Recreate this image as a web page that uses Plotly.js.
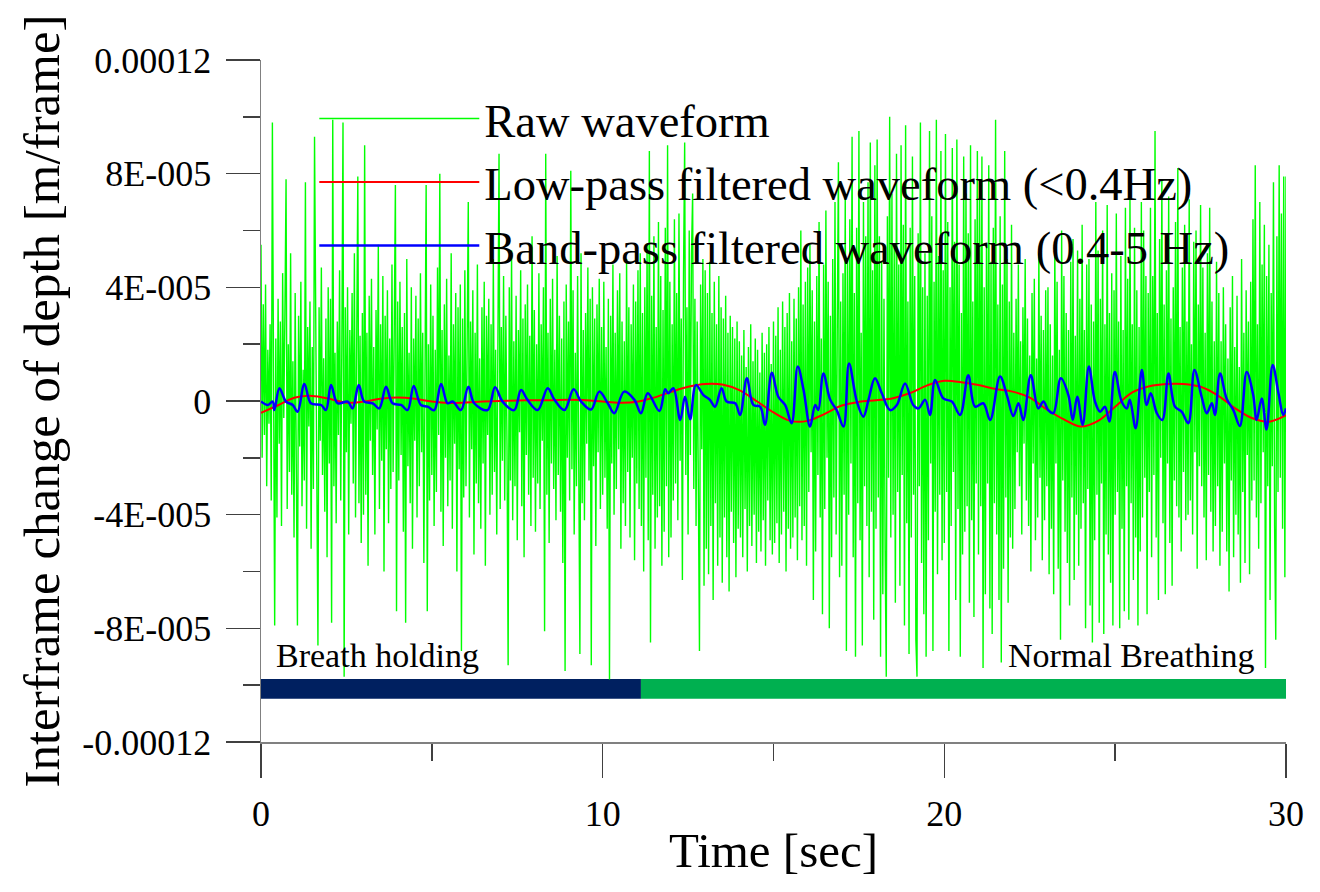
<!DOCTYPE html>
<html>
<head>
<meta charset="utf-8">
<script src="https://cdn.plot.ly/plotly-3.0.1.min.js"></script>
<style>html,body{margin:0;padding:0;background:#fff;}#chart{width:1320px;height:892px;}</style>
</head>
<body>
<div id="chart"></div>
<script>
// Raw waveform in units of 1e-6 m/frame,
// one row per second, 30 samples per second (t = 0 ... 30 s)
const RAW_UNIT = 1e-6;
const rawDt = 1 / 30;
const rawE6 = [
  55, -20, 34, -12, 41, -30, 18, -8, 27, -35, 98, 12, -79, 22, -41, 36, -15, 28, -44, 45, -6, 31, 78, -38, 20, -25, 52, -33, 14, -48,
  38, -24, -79, 30, -16, 42, -37, 11, -28, 77, -45, 26, -9, 35, -52, 19, -31, 93, 24, -40, -86, 33, -14, 47, -26, 15, -39, 29, -55, 40,
  -22, 36, -78, 99, -30, 17, -43, 28, -12, 46, -35, 21, 98, -97, 33, -18, 40, -47, 25, -8, 38, -29, 52, -41, 16, 79, -36, 23, -50, 31,
  -40, 90, -33, 24, -58, 37, -14, 43, -26, 19, -47, 32, -10, 55, -38, 27, -21, 44, -60, 30, -17, 39, -43, 22, -31, 48, -25, 14, 76, -74,
  35, -28, 42, -19, 26, -46, 31, -78, 50, -23, 17, -36, 40, -52, 22, -14, 37, -41, 29, -30, 45, -18, 24, -57, 33, 76, -74, 20, -35, 41,
  -26, 30, -44, 18, -32, 47, -12, 80, -39, 25, -51, 34, -20, 43, -37, 16, -28, 52, -45, 27, -15, 38, -60, 33, -24, 41, -88, 29, -34, 46,
  -30, 22, 70, -41, 28, -17, 39, -54, 24, -29, 48, -36, 15, -45, 33, -22, 42, -58, 30, -12, 36, -40, 27, -33, 50, -25, 18, -47, 35, 87,
  -38, 26, -21, 44, -35, 30, -16, -93, 40, -28, 53, -42, 21, -30, 37, -49, 25, -11, 46, -37, 29, -55, 34, -19, 41, -33, 23, -44, 58, -27,
  32, -46, 20, -29, 45, -38, 27, -14, 40, -81, 87, -33, 24, -50, 36, -22, 43, -31, 18, -42, 51, -26, 30, -39, 22, -57, 35, -95, 41, -20,
  28, -35, 81, -24, 39, -47, 17, -30, 44, -19, -89, 52, -36, 25, -42, 31, -15, 47, -28, 36, -93, 40, -23, 29, -51, 34, -18, 43, -38, 26,
  -33, 42, -27, 19, -45, 36, -98, 30, -22, 48, -40, 24, -31, 39, -17, 45, -52, 28, -36, 21, -44, 50, -25, 33, -48, 27, -20, 41, -56, 35,
  -29, 46, -38, 52, -44, 31, -60, 40, -27, 55, -49, 88, -85, 37, -33, 58, -52, 26, -41, 63, -37, 44, -58, 32, -46, 61, -30, 90, -55, 42,
  -48, 27, -35, 64, -29, 38, -42, 66, -21, 29, -63, 45, 91, -26, 33, -47, 60, -19, 52, 73, -31, 36, -44, 28, -53, -88, 41, -17, 50, -65,
  46, -52, 38, -61, 49, -44, 31, -70, 42, -36, 27, -58, 44, -48, 33, -64, 29, -41, 37, -55, 24, -67, 30, -39, 26, -50, 22, -62, 28, -45,
  21, -48, 16, -55, 25, -38, 12, -60, 19, -44, 27, -51, 14, -40, 22, -57, 18, -46, 10, -53, 24, -42, 17, -58, 20, -35, 26, -49, 13, -54,
  28, -50, 23, -43, 33, -57, 18, -47, 35, -39, 26, -60, 31, -45, 38, -52, 21, -48, 36, -41, 29, -56, 40, -37, 60, -49, 34, -44, 42, -58,
  47, -32, 55, -18, 39, -70, 28, -53, 44, -26, 63, -41, 22, -75, 48, -38, 67, -20, 42, -80, 30, -55, 50, -34, 70, -47, 26, 84, -62, 35,
  -58, 45, -33, 72, -88, 50, -40, 64, -22, 93, -55, 38, -90, 61, -36, 95, -49, 24, -86, 70, -30, 58, -44, 77, -62, 91, -39, 46, -77, 83,
  -45, 92, -34, 58, -90, 49, -68, 36, -52, -97, 65, -27, 100, -48, 73, -40, 54, -71, 87, -32, 48, -65, 90, -26, 62, -79, 97, -43, 35, -89,
  61, -48, 86, -33, 44, -84, -97, 59, -30, 98, -57, 40, -75, 52, -90, 37, -49, 95, -22, 65, -88, 42, -39, 99, -61, 51, -33, 88, -56, 46,
  -50, 94, -32, 63, -88, 40, -44, 89, -25, 56, -70, 92, -38, 48, -90, 31, -54, 86, -46, 73, -37, 59, -71, 90, -42, 35, -76, 64, -29, 88,
  -54, 72, -37, 86, -94, 40, -68, 55, -29, 83, -73, 49, -82, 61, -36, 99, -47, 34, -70, 65, -92, 41, -59, 88, -34, 50, -71, 35, -48, 62,
  -52, 24, -38, 36, -18, 48, -30, 21, -47, 33, -15, 50, -35, 29, -44, 16, -60, 38, -22, 43, -49, 15, -41, 52, -27, 30, -56, 25, -42, 39,
  -30, 40, -61, 27, -45, 16, -68, 55, -22, 42, -59, 18, -84, 60, -28, 44, -46, 31, -57, 25, -72, 49, -34, 57, -63, 23, -40, 53, -58, 36,
  -45, 62, -36, 25, -80, 48, -31, 50, -72, 34, -85, 28, -49, 70, -33, 53, -78, 36, -29, 60, -82, 27, -47, 69, -54, 31, -64, 45, -79, 39,
  -40, 66, -32, 28, -80, 51, -45, 25, -74, 68, -30, 43, -77, 72, -36, 27, -63, 61, -48, 39, -79, 26, -53, 70, -41, 60, -27, 44, -75, 38,
  -32, 68, -55, 44, -26, 95, -48, 31, -70, 57, -20, 78, -43, 34, -68, 46, -22, 72, -50, 29, -65, 40, -28, 63, -37, 82, -41, 26, -53, 47,
  -25, 62, -42, 28, -40, 71, -35, 20, -47, 56, -18, 60, -59, 34, -23, 69, -30, 47, -41, 24, -56, 52, -26, 68, -39, 35, -53, 21, -44, 49,
  -30, 38, -58, 21, -46, 40, -22, 27, -53, 15, -67, 33, -28, 44, -55, 19, -40, 37, -47, 12, -64, 50, -32, 24, -57, 39, -19, 28, -61, 42,
  -35, 64, -28, 83, -41, 27, -52, 70, -36, 48, -18, 62, -94, 44, -30, 55, -70, 38, -23, 77, -44, -84, 58, -32, 83, -27, 66, -45, 79, -62,
  79
];

// Filtered waveforms in units of 1e-5 m/frame
const UNIT = 1e-5;

// Low-pass filtered waveform: sampled every 0.5 s
const lpDt = 0.5;
const lowPassE5 = [
  -0.42, -0.15, 0.12, 0.18, 0.08, -0.06, -0.02, 0.08, 0.12, 0.08,
  -0.02, -0.07, -0.05, -0.02, 0.00, 0.02, 0.03, 0.03, 0.04, 0.03,
  -0.02, -0.06, -0.03, 0.12, 0.32, 0.50, 0.60, 0.58, 0.38, 0.00,
  -0.40, -0.70, -0.70, -0.45, -0.16, -0.03, 0.03, 0.10, 0.28, 0.55,
  0.71, 0.66, 0.56, 0.42, 0.33, 0.12, -0.30, -0.65, -0.90, -0.70,
  -0.20, 0.30, 0.52, 0.60, 0.60, 0.50, 0.20, -0.25, -0.60, -0.73,
  -0.50
];

// Band-pass filtered waveform: turning points (time [s], value)
const bpTime = [
  0, 0.2, 0.34, 0.39, 0.54, 0.73, 0.93, 1.07, 1.27, 1.46, 1.76, 1.9, 2.05, 2.24, 2.54, 2.68, 2.86,
  3.02, 3.27, 3.46, 3.66, 3.85, 4.1, 4.29, 4.47, 4.68, 4.88, 5.07, 5.27, 5.46, 5.61, 5.85,
  6.07, 6.24, 6.63, 6.85, 7.07, 7.41, 7.61, 7.8, 8.1, 8.39, 8.59, 8.88, 9.15, 9.37, 9.66,
  9.9, 10.15, 10.34, 10.63, 10.93, 11.12, 11.32, 11.66, 11.83, 11.92, 12.07, 12.27, 12.41,
  12.56, 12.73, 12.95, 13.14, 13.29, 13.48, 13.63, 13.88, 14.02, 14.22, 14.41, 14.61, 14.75,
  14.95, 15.14, 15.34, 15.53, 15.71, 15.88, 16.07, 16.22, 16.31, 16.46, 16.66, 16.85, 17.05,
  17.21, 17.44, 17.63, 17.78, 17.97, 18.17, 18.41, 18.61, 18.85, 19.09, 19.24, 19.44, 19.58,
  19.73, 19.97, 20.22, 20.46, 20.7, 20.9, 21.14, 21.34, 21.63, 21.83, 22.02, 22.17, 22.31,
  22.53, 22.75, 22.9, 23.04, 23.19, 23.41, 23.63, 23.76, 23.89, 24.05, 24.23, 24.41, 24.56,
  24.7, 24.83, 24.99, 25.19, 25.34, 25.43, 25.6, 25.78, 25.92, 26.04, 26.22, 26.38, 26.56,
  26.75, 26.95, 27.14, 27.32, 27.53, 27.68, 27.83, 27.92, 28.07, 28.26, 28.46, 28.65, 28.85,
  29.04, 29.14, 29.29, 29.43, 29.61, 29.78, 29.92, 30
];
const bpE5 = [
  -0.02, -0.14, -0.02, -0.32, 0.45, -0.02, -0.14, -0.38, 0.60, -0.08, -0.14, -0.32, 0.56, -0.08, -0.02, -0.26, 0.56,
  -0.02, -0.08, -0.26, 0.50, -0.08, -0.14, -0.32, 0.53, -0.14, -0.20, -0.32, 0.60, -0.08, -0.02, -0.32,
  0.50, -0.08, -0.32, 0.48, -0.02, -0.32, 0.39, 0.04, -0.32, 0.45, 0.04, -0.32, 0.41, -0.02, -0.30,
  0.33, -0.08, -0.43, 0.33, 0.04, -0.43, 0.27, -0.35, 0.41, 0.27, 0.45, -0.67, 0.15,
  -0.64, 0.56, 0.21, 0.04, -0.20, 0.45, -0.02, -0.08, -0.49, 0.80, -0.14, -0.20, -0.84,
  0.99, 0.15, -0.14, -0.78, 1.21, 0.39, -0.90, -0.14, -0.32, 0.97, 0.04, -0.32, -0.90,
  1.32, -0.02, -0.55, 0.04, 0.80, 0.27, -0.32, -0.14, 0.62, -0.14, -0.26, 0.04, -0.49,
  0.74, 0.09, -0.02, -0.49, 0.91, -0.20, -0.08, -0.67, 0.86, 0.21, -0.53, -0.08, -0.67,
  0.91, -0.26, -0.02, -0.32, -0.43, 0.80, 0.21, -0.67, 0.15, -0.84, 1.21, -0.02, -0.38,
  -0.20, -0.72, 1.02, -0.02, -0.26, 0.04, -0.96, 1.09, -0.14, 0.27, -0.43, -0.67, 0.97,
  -0.20, -0.38, -0.78, 1.09, 0.15, -0.43, -0.08, -0.49, 0.97, 0.09, -0.32, -0.88, 1.02,
  0.21, -0.67, 0.09, -1.00, 1.27, 0.27, -0.49, -0.26
];

// Breathing phases (time bar at the bottom)
const phaseNames = ['Breath holding', 'Normal Breathing'];
const phaseStart = [0, 11.12];
const phaseEnd = [11.12, 30];
const phaseColors = ['#002060', '#00B050'];
const phaseBarLevelE5 = -10.13;
const phaseLabelLevelE5 = -8.97;

// Axis ticks and labels
const xTickVals = [0, 10, 20, 30];
const xMinorVals = [5, 15, 25];
const yTickValsE5 = [-12, -8, -4, 0, 4, 8, 12];
const yTickText = ['-0.00012', '-8E-005', '-4E-005', '0', '4E-005', '8E-005', '0.00012'];
const yMinorValsE5 = [-10, -6, -2, 2, 6, 10];

const scale = (a, u) => a.map(v => v * u);
const FONT = 'Liberation Serif, Times New Roman, serif';

const traces = [
  {
    type: 'scatter', mode: 'lines', name: 'Raw waveform',
    x0: 0, dx: rawDt, y: scale(rawE6, RAW_UNIT),
    line: {color: '#00FF00', width: 1.4}, hoverinfo: 'skip'
  },
  {
    type: 'scatter', mode: 'lines', name: 'Low-pass filtered waveform (<0.4Hz)',
    x0: 0, dx: lpDt, y: scale(lowPassE5, UNIT),
    line: {color: '#FF0000', width: 2, shape: 'spline', smoothing: 1}, hoverinfo: 'skip'
  },
  {
    type: 'scatter', mode: 'lines', name: 'Band-pass filtered waveform (0.4-5 Hz)',
    x: bpTime, y: scale(bpE5, UNIT),
    line: {color: '#0000FF', width: 2.5, shape: 'spline', smoothing: 1}, hoverinfo: 'skip'
  },
  {
    type: 'bar', orientation: 'h', showlegend: false, hoverinfo: 'skip',
    y: phaseStart.map(() => phaseBarLevelE5 * UNIT),
    base: phaseStart,
    x: phaseEnd.map((e, i) => e - phaseStart[i]),
    width: 0.7 * UNIT,
    marker: {color: phaseColors, line: {width: 0}}
  }
];

const layout = {
  width: 1320, height: 892,
  margin: {l: 261, r: 34, t: 60, b: 150},
  paper_bgcolor: '#ffffff', plot_bgcolor: '#ffffff',
  font: {family: FONT, color: '#000000', size: 36},
  showlegend: true,
  barmode: 'overlay',
  legend: {
    x: 0.052, y: 0.968, xanchor: 'left', yanchor: 'top',
    bgcolor: 'rgba(0,0,0,0)', borderwidth: 0,
    itemwidth: 160, font: {family: FONT, size: 46.5, color: '#000'},
    tracegroupgap: 0
  },
  xaxis: {
    range: [0, 30], tickmode: 'array', tickvals: xTickVals,
    ticks: 'outside', ticklen: 34, tickwidth: 1.5, tickcolor: '#404040',
    minor: {tickmode: 'array', tickvals: xMinorVals, ticks: 'outside', ticklen: 17, tickwidth: 1.5, tickcolor: '#404040'},
    showline: true, linecolor: '#808080', linewidth: 1.5,
    showgrid: false, zeroline: false,
    tickfont: {family: FONT, size: 36, color: '#000'},
    ticklabelstandoff: 5,
    title: {text: 'Time [sec]', font: {family: FONT, size: 49, color: '#000'}, standoff: 0}
  },
  yaxis: {
    range: [-12 * UNIT, 12 * UNIT], tickmode: 'array',
    tickvals: scale(yTickValsE5, UNIT), ticktext: yTickText,
    ticks: 'outside', ticklen: 34, tickwidth: 1.5, tickcolor: '#404040',
    minor: {tickmode: 'array', tickvals: scale(yMinorValsE5, UNIT), ticks: 'outside', ticklen: 17, tickwidth: 1.5, tickcolor: '#404040'},
    showline: true, linecolor: '#808080', linewidth: 1.5,
    showgrid: false, zeroline: false,
    tickfont: {family: FONT, size: 36, color: '#000'},
    ticklabelstandoff: 7,
    title: {text: 'Interframe change of depth [m/frame]', font: {family: FONT, size: 51, color: '#000'}, standoff: 6}
  },
  annotations: [
    {
      x: phaseStart[0] + 0.38, y: phaseLabelLevelE5 * UNIT, xref: 'x', yref: 'y',
      text: phaseNames[0], showarrow: false, xanchor: 'left', yanchor: 'middle',
      font: {family: FONT, size: 34, color: '#000'}
    },
    {
      x: phaseEnd[1] - 0.88, y: phaseLabelLevelE5 * UNIT, xref: 'x', yref: 'y',
      text: phaseNames[1], showarrow: false, xanchor: 'right', yanchor: 'middle',
      font: {family: FONT, size: 34, color: '#000'}
    }
  ]
};

Plotly.newPlot('chart', traces, layout, {displayModeBar: false, staticPlot: true});
</script>
</body>
</html>
